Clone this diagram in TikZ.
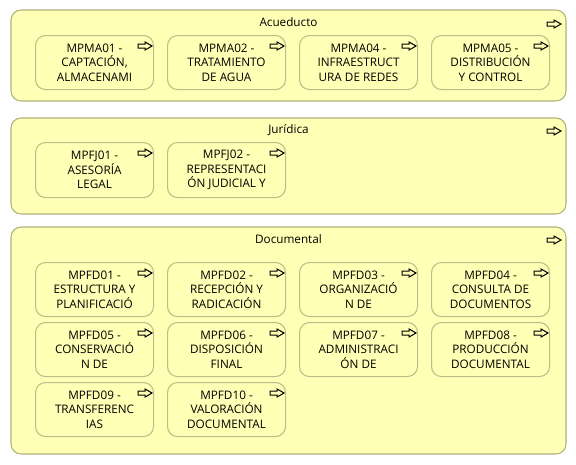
\documentclass[tikz,border=0pt]{standalone}
\usepackage{fontspec}
\setmainfont{Open Sans}
\begin{document}
\begin{tikzpicture}[x=0.75pt,y=-0.75pt,
  grp/.style={draw=grpborder, fill=archfill, line width=0.8pt, rounded corners=7.5pt},
  proc/.style={draw=procborder, fill=archfill, line width=0.8pt, rounded corners=7.5pt,
    anchor=north west, minimum width=88.5pt, minimum height=40.5pt, inner sep=0pt,
    align=center, font=\fontsize{8.8}{11}\selectfont},
  gtitle/.style={font=\fontsize{8.8}{11}\selectfont, inner sep=0pt},
  procarrow/.pic={\draw[line width=0.75pt, black, line join=miter]
     (-16,9) -- (-9,9) -- (-9,7) -- (-2,11) -- (-9,15) -- (-9,13) -- (-16,13) -- cycle;}
]
\definecolor{archfill}{HTML}{FFFFB5}
\definecolor{grpborder}{HTML}{B2B27E}
\definecolor{procborder}{HTML}{BDBD8C}
\useasboundingbox (0,0) rectangle (576,465);
\fill[white] (0,0) rectangle (576,465);

% groups
\draw[grp] (11,10) rectangle (566,101);
\coordinate (gA) at (563,13);
\node[gtitle] (tA) at (288.5,22) {Acueducto};
\pic at (gA) {procarrow};

\draw[grp] (11,118) rectangle (566,214);
\coordinate (gJ) at (563,120);
\node[gtitle] (tJ) at (288.5,130) {Jurídica};
\pic at (gJ) {procarrow};

\draw[grp] (11,227) rectangle (566,454);
\coordinate (gD) at (563,229);
\node[gtitle] (tD) at (288.5,239) {Documental};
\pic at (gD) {procarrow};

% Acueducto
\node[proc] (ma01) at (35,35) {MPMA01 -\\CAPTACIÓN,\\ALMACENAMI};
\node[proc] (ma02) at (167,35) {MPMA02 -\\TRATAMIENTO\\DE AGUA};
\node[proc] (ma04) at (299,35) {MPMA04 -\\INFRAESTRUCT\\URA DE REDES};
\node[proc] (ma05) at (431,35) {MPMA05 -\\DISTRIBUCIÓN\\Y CONTROL};

% Juridica
\node[proc, minimum height=41.25pt] (fj01) at (35,142) {MPFJ01 -\\ASESORÍA\\LEGAL};
\node[proc, minimum height=41.25pt] (fj02) at (167,142) {MPFJ02 -\\REPRESENTACI\\ÓN JUDICIAL Y};

% Documental
\node[proc] (fd01) at (35,262) {MPFD01 -\\ESTRUCTURA Y\\PLANIFICACIÓ};
\node[proc] (fd02) at (167,262) {MPFD02 -\\RECEPCIÓN Y\\RADICACIÓN};
\node[proc] (fd03) at (299,262) {MPFD03 -\\ORGANIZACIÓ\\N DE};
\node[proc] (fd04) at (431,262) {MPFD04 -\\CONSULTA DE\\DOCUMENTOS};
\node[proc] (fd05) at (35,322) {MPFD05 -\\CONSERVACIÓ\\N DE};
\node[proc] (fd06) at (167,322) {MPFD06 -\\DISPOSICIÓN\\FINAL};
\node[proc] (fd07) at (299,322) {MPFD07 -\\ADMINISTRACI\\ÓN DE};
\node[proc] (fd08) at (431,322) {MPFD08 -\\PRODUCCIÓN\\DOCUMENTAL};
\node[proc] (fd09) at (35,382) {MPFD09 -\\TRANSFERENC\\IAS};
\node[proc] (fd10) at (167,382) {MPFD10 -\\VALORACIÓN\\DOCUMENTAL};

\foreach \n in {ma01,ma02,ma04,ma05,fj01,fj02,fd01,fd02,fd03,fd04,fd05,fd06,fd07,fd08,fd09,fd10}
  \pic at (\n.north east) {procarrow};
\end{tikzpicture}
\end{document}
